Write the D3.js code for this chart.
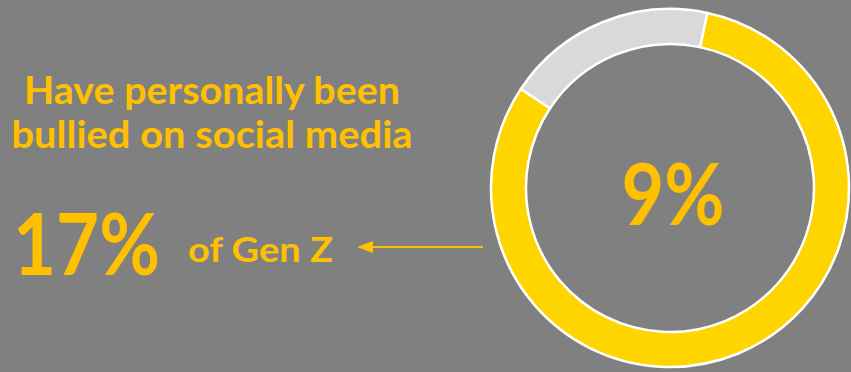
<!DOCTYPE html>
<html>
<head>
<meta charset="utf-8">
<script src="https://cdn.jsdelivr.net/npm/d3@7"></script>
<style>
  html, body { margin: 0; padding: 0; background: #808080; }
  svg { display: block; }
</style>
</head>
<body>
<div id="chart"></div>
<script>
// ring shares: bullied vs rest
const segments = ['yes', 'no'];
const shares = [81, 19];
const segColors = ['#FFD500', '#D9D9D9'];

const titleLines = ['Have personally been', 'bullied on social media'];
const bigStat = '17%';
const statLabel = 'of Gen Z';
const ringLabel = '9%';

const W = 851, H = 372;
const GOLD = '#FFC000';
const FONT = 'Lato, "Open Sans", sans-serif';

const svg = d3.select('#chart').append('svg')
  .attr('width', W).attr('height', H);

svg.append('rect').attr('width', W).attr('height', H).attr('fill', '#808080');

// ─── DONUT ───
const cx = 670, cy = 188;
const pie = d3.pie().sort(null)
  .startAngle(12 * Math.PI / 180)
  .endAngle(12 * Math.PI / 180 + 2 * Math.PI);
const arc = d3.arc().innerRadius(144).outerRadius(179);

const ring = svg.append('g').attr('transform', `translate(${cx},${cy})`);
ring.selectAll('path')
  .data(pie(shares))
  .join('path')
  .attr('d', arc)
  .attr('fill', (d, i) => segColors[i])
  .attr('stroke', '#fff')
  .attr('stroke-width', 2.5);

ring.append('text')
  .attr('x', 3).attr('y', 37)
  .attr('text-anchor', 'middle')
  .attr('font-family', FONT).attr('font-weight', 700)
  .attr('font-size', 86)
  .attr('textLength', 103).attr('lengthAdjust', 'spacingAndGlyphs')
  .attr('fill', GOLD)
  .text(ringLabel);

// ─── LEFT TEXT ───
svg.append('text')
  .attr('font-family', FONT).attr('font-weight', 700)
  .attr('font-size', 38).attr('fill', GOLD)
  .attr('text-anchor', 'middle')
  .selectAll('tspan')
  .data(titleLines)
  .join('tspan')
  .attr('x', 212)
  .attr('y', (d, i) => 104 + i * 44)
  .attr('textLength', (d, i) => i === 0 ? 376 : 401)
  .attr('lengthAdjust', 'spacingAndGlyphs')
  .text(d => d);

svg.append('text')
  .attr('x', 13).attr('y', 275)
  .attr('font-family', FONT).attr('font-weight', 700)
  .attr('font-size', 86).attr('fill', GOLD)
  .attr('textLength', 147).attr('lengthAdjust', 'spacingAndGlyphs')
  .text(bigStat);

svg.append('text')
  .attr('x', 188).attr('y', 262)
  .attr('font-family', FONT).attr('font-weight', 700)
  .attr('font-size', 35).attr('fill', GOLD)
  .attr('textLength', 145).attr('lengthAdjust', 'spacingAndGlyphs')
  .text(statLabel);

// arrow pointing from the ring to the label
const ay = 247;
svg.append('line')
  .attr('x1', 483).attr('x2', 368)
  .attr('y1', ay).attr('y2', ay)
  .attr('stroke', GOLD).attr('stroke-width', 2);
svg.append('path')
  .attr('d', `M357,${ay} L373,${ay - 6} L373,${ay + 6} Z`)
  .attr('fill', GOLD);
</script>
</body>
</html>
